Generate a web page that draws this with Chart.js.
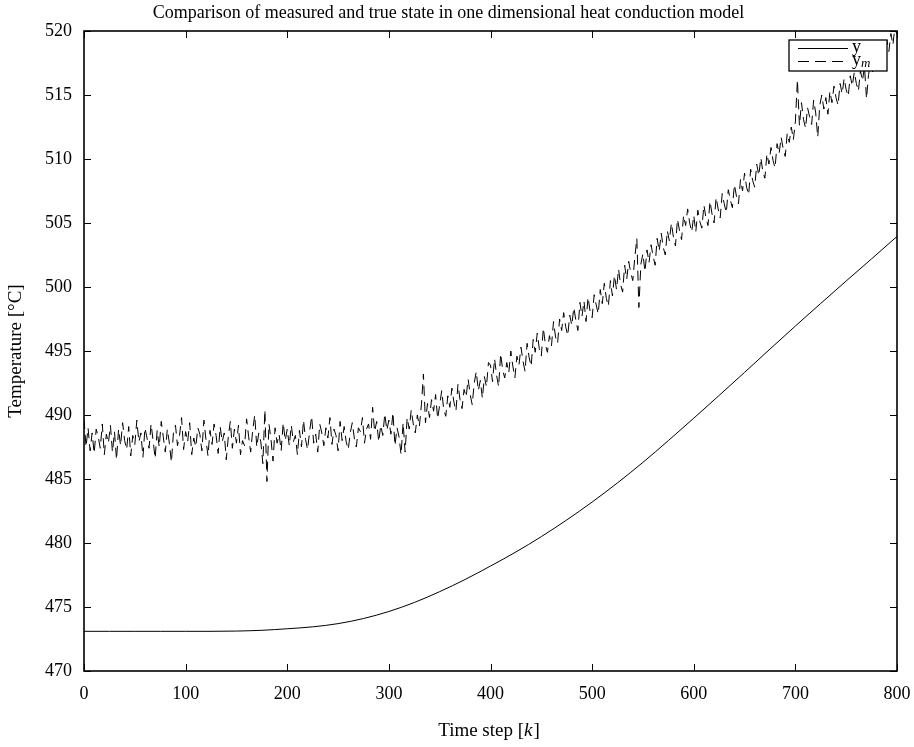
<!DOCTYPE html>
<html>
<head>
<meta charset="utf-8">
<script src="https://cdn.jsdelivr.net/npm/chart.js@4"></script>
<style>
  html, body { margin: 0; padding: 0; background: #fff; }
  canvas { display: block; }
</style>
</head>
<body>
<canvas id="heatChart" width="914" height="747"></canvas>
<script>
// true state y, read every 25 time steps
const trueSteps = [0, 25, 50, 75, 100, 125, 150, 175, 200, 225, 250, 275, 300, 325, 350, 375, 400,
    425, 450, 475, 500, 525, 550, 575, 600, 625, 650, 675, 700, 725, 750, 775, 800];
const trueTemps = [473.1, 473.1, 473.1, 473.1, 473.1, 473.1, 473.12, 473.18, 473.3, 473.45, 473.7, 474.1,
    474.65, 475.35, 476.2, 477.15, 478.2, 479.3, 480.5, 481.8, 483.2, 484.7, 486.3, 488.0, 489.75, 491.53,
    493.33, 495.15, 496.95, 498.72, 500.47, 502.2, 503.95];

// measured state y_m, one value every 2 time steps
const measuredStride = 2;
const measured0to198 = [
    489.7, 487.5, 489.0, 487.2, 488.6, 487.0, 488.9, 488.3, 487.4, 489.3,
    486.9, 488.5, 487.8, 489.2, 487.1, 488.7, 486.5, 488.9, 487.6, 489.4,
    488.0, 487.3, 489.1, 486.8, 488.4, 487.7, 489.6, 487.9, 488.6, 486.7,
    489.0, 488.2, 487.4, 489.3, 488.0, 486.6, 488.8, 487.5, 489.5, 488.3,
    487.1, 488.9, 487.8, 486.3, 488.6, 489.2, 487.6, 488.4, 489.8, 487.3,
    488.7, 487.9, 489.4, 486.9, 488.2, 487.5, 489.0, 488.5, 487.2, 489.6,
    488.1, 486.8, 488.8, 487.7, 489.3, 488.4, 487.0, 489.1, 487.9, 488.6,
    486.5, 488.3, 489.5, 487.4, 488.9, 487.8, 489.2, 486.9, 488.0, 487.6,
    489.7, 488.3, 487.1, 488.8, 490.0, 487.5, 488.6, 487.9, 486.2, 490.4,
    484.8, 489.3, 488.1, 486.4, 489.0, 487.8, 488.5, 487.2, 489.4, 488.0
];
const measured200to398 = [
    488.9, 487.6, 489.2, 487.9, 488.4, 486.9, 488.8, 487.5, 489.6, 488.1,
    487.3, 488.7, 489.9, 487.8, 488.5, 487.1, 489.3, 488.6, 487.6, 489.0,
    488.2, 489.8, 487.7, 488.9, 488.4, 487.2, 489.5, 488.0, 489.1, 487.9,
    487.3, 488.6, 489.4, 488.2, 487.5, 489.0, 488.7, 489.8, 487.8, 488.9,
    489.3, 488.1, 490.6, 488.7, 489.5, 487.9, 489.2, 488.4, 490.1, 488.8,
    489.6, 488.5, 490.2, 487.6, 489.0, 488.3, 486.9, 489.4, 487.1, 489.8,
    488.9, 490.4, 489.3, 488.6, 490.0, 489.1, 490.8, 493.2, 489.4, 490.9,
    489.8, 491.2, 490.3, 491.6, 489.7, 490.8, 491.9, 490.4, 489.9, 491.5,
    490.6, 492.1, 491.0, 490.3, 492.4, 491.2, 490.5, 492.0, 491.4, 492.8,
    491.6, 490.8, 492.5, 493.4, 491.9, 492.7, 491.3, 493.0, 492.2, 494.1
];
const measured400to598 = [
    493.9, 492.6, 494.4, 493.1, 492.2, 494.8, 493.5, 492.9, 494.1, 493.3,
    495.0, 493.8, 492.9, 494.6, 493.9, 495.3, 494.2, 493.4, 495.6, 494.5,
    493.8, 495.9, 494.9, 496.4, 495.2, 494.6, 496.8, 495.5, 494.9, 496.2,
    495.4, 497.3, 496.1, 495.6, 497.5, 496.6, 498.0, 496.9, 496.2, 497.8,
    497.0, 498.4, 497.4, 496.6, 498.8, 497.7, 498.9, 497.3, 499.2, 498.1,
    497.6, 499.4, 498.6, 497.9, 499.8, 498.7, 500.3, 499.1, 498.5, 500.5,
    499.3, 500.9, 499.8, 501.4, 500.2, 499.6, 501.7, 500.6, 502.0, 501.1,
    500.5, 502.3, 503.8, 498.4, 501.8, 502.6, 501.2, 502.9, 501.9, 503.3,
    502.4, 501.7, 503.8, 502.8, 504.2, 503.1, 502.5, 504.4, 503.6, 505.0,
    503.9, 503.2, 505.3, 504.4, 503.7, 505.6, 504.8, 506.1, 505.0, 504.3
];
const measured600to800 = [
    505.6, 504.3, 506.0, 505.1, 504.6, 506.4, 505.4, 504.8, 506.7, 505.7,
    505.0, 507.0, 506.1, 505.4, 507.3, 506.5, 505.8, 507.6, 506.8, 506.2,
    508.0, 507.1, 506.5, 508.4, 507.5, 508.9, 507.8, 507.2, 509.2, 508.3,
    507.8, 509.6, 508.7, 510.1, 509.0, 508.5, 510.4, 509.6, 510.9, 509.9,
    509.3, 511.2, 510.4, 511.7, 510.8, 510.2, 512.0, 511.3, 512.5, 511.5,
    512.9, 516.2, 512.6, 514.4, 513.1, 512.4, 514.0, 513.3, 512.7, 514.6,
    513.6, 511.7, 514.2, 515.0, 513.9, 514.8, 513.5, 515.3, 514.4, 515.7,
    514.8, 514.2, 515.9, 515.1, 516.3, 515.4, 514.9, 516.5, 515.7, 516.8,
    515.9, 515.3, 516.9, 516.1, 517.2, 514.7, 516.6, 517.4, 516.8, 517.9,
    517.1, 518.3, 517.5, 518.8, 518.0, 519.3, 518.4, 519.8, 518.9, 520.4,
    519.6
];
const measuredTemps = measured0to198.concat(measured200to398, measured400to598, measured600to800);

const xTickStep = 100;
const yTickStep = 5;

const SERIF = '"Liberation Serif", "DejaVu Serif", serif';

const truePoints = trueSteps.map((k, i) => ({x: k, y: trueTemps[i]}));
const measuredPoints = measuredTemps.map((v, i) => ({x: i * measuredStride, y: v}));

// inward ticks on all four sides, box, legend and x label
const framePlugin = {
    id: 'framePlugin',
    afterDraw(chart) {
        const ctx = chart.ctx;
        const area = chart.chartArea;
        const xs = chart.scales.x;
        const ys = chart.scales.y;
        const tick = 7;

        ctx.save();
        ctx.strokeStyle = '#000';
        ctx.lineWidth = 1;
        ctx.beginPath();
        xs.ticks.forEach(t => {
            const px = Math.round(xs.getPixelForValue(t.value)) + 0.5;
            ctx.moveTo(px, area.bottom);
            ctx.lineTo(px, area.bottom - tick);
            ctx.moveTo(px, area.top);
            ctx.lineTo(px, area.top + tick);
        });
        ys.ticks.forEach(t => {
            const py = Math.round(ys.getPixelForValue(t.value)) + 0.5;
            ctx.moveTo(area.left, py);
            ctx.lineTo(area.left + tick, py);
            ctx.moveTo(area.right, py);
            ctx.lineTo(area.right - tick, py);
        });
        ctx.stroke();

        ctx.lineWidth = 1.6;
        ctx.strokeRect(area.left, area.top, area.right - area.left, area.bottom - area.top);

        // legend
        const lx = area.right - 108, ly = area.top + 9;
        ctx.fillStyle = '#fff';
        ctx.fillRect(lx, ly, 98, 31);
        ctx.lineWidth = 1.3;
        ctx.strokeRect(lx, ly, 98, 31);
        ctx.lineWidth = 1;
        ctx.beginPath();
        ctx.moveTo(lx + 9, ly + 8.5);
        ctx.lineTo(lx + 59, ly + 8.5);
        ctx.stroke();
        ctx.setLineDash([11, 6]);
        ctx.beginPath();
        ctx.moveTo(lx + 9, ly + 21.5);
        ctx.lineTo(lx + 60, ly + 21.5);
        ctx.stroke();
        ctx.setLineDash([]);
        ctx.fillStyle = '#000';
        ctx.textBaseline = 'alphabetic';
        ctx.textAlign = 'left';
        ctx.font = '18px ' + SERIF;
        ctx.fillText('y', lx + 63, ly + 11.5);
        ctx.fillText('y', lx + 63, ly + 24.5);
        ctx.font = 'italic 13px ' + SERIF;
        ctx.fillText('m', lx + 72, ly + 27);

        // x axis label with italic k
        const cx = (area.left + area.right) / 2 - 2;
        const cy = 731;
        ctx.textBaseline = 'middle';
        const partA = 'Time step [';
        const partB = 'k';
        const partC = ']';
        ctx.font = '19px ' + SERIF;
        const wA = ctx.measureText(partA).width;
        const wC = ctx.measureText(partC).width;
        ctx.font = 'italic 19px ' + SERIF;
        const wB = ctx.measureText(partB).width;
        let x0 = cx - (wA + wB + wC) / 2;
        ctx.font = '19px ' + SERIF;
        ctx.fillText(partA, x0, cy);
        ctx.font = 'italic 19px ' + SERIF;
        ctx.fillText(partB, x0 + wA, cy);
        ctx.font = '19px ' + SERIF;
        ctx.fillText(partC, x0 + wA + wB + 1, cy);
        ctx.restore();
    }
};

const ctx = document.getElementById('heatChart').getContext('2d');
new Chart(ctx, {
    type: 'line',
    data: {
        datasets: [{
            label: 'y',
            data: truePoints,
            borderColor: '#000',
            borderWidth: 1,
            pointRadius: 0,
            cubicInterpolationMode: 'monotone',
            fill: false
        }, {
            label: 'y_m',
            data: measuredPoints,
            borderColor: '#000',
            borderWidth: 1,
            borderDash: [10, 6],
            pointRadius: 0,
            tension: 0,
            fill: false
        }]
    },
    options: {
        responsive: false,
        animation: false,
        layout: {
            padding: {left: 0, right: 17, top: 0, bottom: 0}
        },
        plugins: {
            legend: {display: false},
            tooltip: {enabled: false},
            title: {
                display: true,
                text: 'Comparison of measured and true state in one dimensional heat conduction model',
                color: '#000',
                font: {family: SERIF, size: 18, weight: 'normal'},
                padding: {top: 2, bottom: 7.4}
            }
        },
        scales: {
            x: {
                type: 'linear',
                min: 0,
                max: 800,
                grid: {display: false, drawTicks: false},
                border: {display: false},
                ticks: {
                    stepSize: xTickStep,
                    color: '#000',
                    padding: 12,
                    maxRotation: 0,
                    font: {family: SERIF, size: 18}
                },
                afterFit(scale) {
                    scale.height = 76;
                    scale.paddingLeft = 0;
                    scale.paddingRight = 0;
                }
            },
            y: {
                min: 470,
                max: 520,
                grid: {display: false, drawTicks: false},
                border: {display: false},
                ticks: {
                    stepSize: yTickStep,
                    color: '#000',
                    padding: 12,
                    font: {family: SERIF, size: 18}
                },
                title: {
                    display: true,
                    text: 'Temperature [°C]',
                    color: '#000',
                    font: {family: SERIF, size: 19},
                    padding: {top: 5, bottom: 0}
                },
                afterFit(scale) {
                    scale.width = 84;
                    scale.paddingTop = 0;
                    scale.paddingBottom = 0;
                }
            }
        }
    },
    plugins: [framePlugin]
});
</script>
</body>
</html>
